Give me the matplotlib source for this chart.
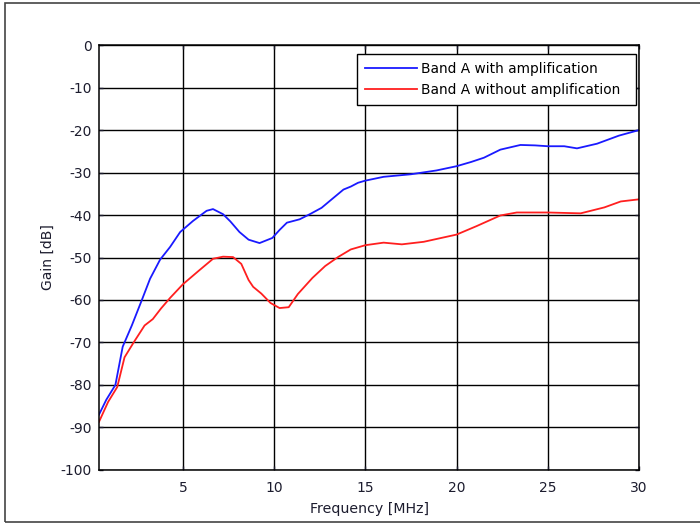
import matplotlib
matplotlib.use('Agg')
import matplotlib.pyplot as plt
from matplotlib.patches import Rectangle

# Frequency response
freq_amp = [0.4, 0.8, 1.3, 1.7, 2.2, 2.75, 3.2, 3.75, 4.3, 4.85, 5.55, 6.3, 6.65, 7.2, 7.6,
            8.1, 8.6, 9.2, 9.9, 10.3, 10.7, 11.4, 12.0, 12.6, 13.1, 13.8, 14.2, 14.6, 15.0,
            16.0, 17.5, 18.9, 20.0, 20.8, 21.5, 22.4, 23.5, 24.3, 25.0, 25.9, 26.6, 27.7,
            28.9, 30.0]
gain_amp = [-87, -83.5, -80, -71, -66, -60, -55, -50.5, -47.5, -44, -41.4, -39, -38.6, -39.8,
            -41.5, -44, -45.8, -46.6, -45.4, -43.5, -41.8, -41, -39.7, -38.3, -36.5, -34,
            -33.3, -32.4, -31.9, -31, -30.4, -29.5, -28.5, -27.5, -26.5, -24.6, -23.5, -23.6,
            -23.8, -23.8, -24.3, -23.2, -21.3, -20]

freq_noamp = [0.4, 0.9, 1.4, 1.8, 2.3, 2.9, 3.35, 3.8, 4.3, 5.0, 5.9, 6.65, 7.2, 7.75, 8.2,
              8.6, 8.85, 9.3, 9.8, 10.3, 10.8, 11.3, 12.1, 12.8, 13.5, 14.2, 15.0, 16.0,
              17.0, 18.2, 20.0, 21.1, 22.4, 23.3, 25.0, 26.8, 28.1, 29.0, 30.0]
gain_noamp = [-88.7, -84, -80.5, -73.5, -70, -66, -64.5, -62, -59.5, -56.3, -53, -50.3, -49.8,
              -49.9, -51.5, -55.3, -56.9, -58.5, -60.7, -61.9, -61.7, -58.6, -54.8, -52, -49.9,
              -48.1, -47.1, -46.5, -46.9, -46.3, -44.6, -42.6, -40.1, -39.4, -39.4, -39.6,
              -38.2, -36.8, -36.3]

x_ticks = [5, 10, 15, 20, 25, 30]
y_ticks = list(range(-100, 1, 10))

plt.rcParams['font.family'] = ['DejaVu Sans']
plt.rcParams['axes.unicode_minus'] = False
TXT = '#1c1c2e'

fig = plt.figure(figsize=(7, 5.25), dpi=100)
ax = fig.add_axes([0.1414, 0.105, 0.7715, 0.809])

# outer frame of the original figure
fig.patches.append(Rectangle((5 / 700, 3 / 525), 1.0, 519 / 525, transform=fig.transFigure,
                             fill=False, edgecolor='#444444', linewidth=1.2))

ax.plot(freq_amp, gain_amp, color='#1a1aff', linewidth=1.3, label='Band A with amplification')
ax.plot(freq_noamp, gain_noamp, color='#ff1f1f', linewidth=1.3, label='Band A without amplification')

ax.set_xlim(0.4, 30)
ax.set_ylim(-100, 0)
ax.set_xticks(x_ticks)
ax.set_yticks(y_ticks)
ax.grid(True, color='black', linestyle='-', linewidth=1.0)
ax.tick_params(direction='in', length=3, width=1, top=True, right=True,
               labelsize=10, colors=TXT)
ax.tick_params(axis='x', pad=8)
ax.tick_params(axis='y', pad=5)
for s in ax.spines.values():
    s.set_linewidth(1.1)

ax.set_xlabel('Frequency [MHz]', fontsize=10.2, color=TXT, labelpad=5)
ax.set_ylabel('Gain [dB]', fontsize=10, color=TXT, labelpad=4)

leg = ax.legend(loc='upper left', bbox_to_anchor=(0.4778, 0.9788, 0.5166, 0.0),
                mode='expand', borderaxespad=0, fontsize=9.9, fancybox=False,
                framealpha=1, edgecolor='black', handlelength=3.8, handletextpad=0.3,
                borderpad=0.55, labelspacing=0.55)
leg.get_frame().set_linewidth(1.0)

fig.savefig('out.png', dpi=100)
